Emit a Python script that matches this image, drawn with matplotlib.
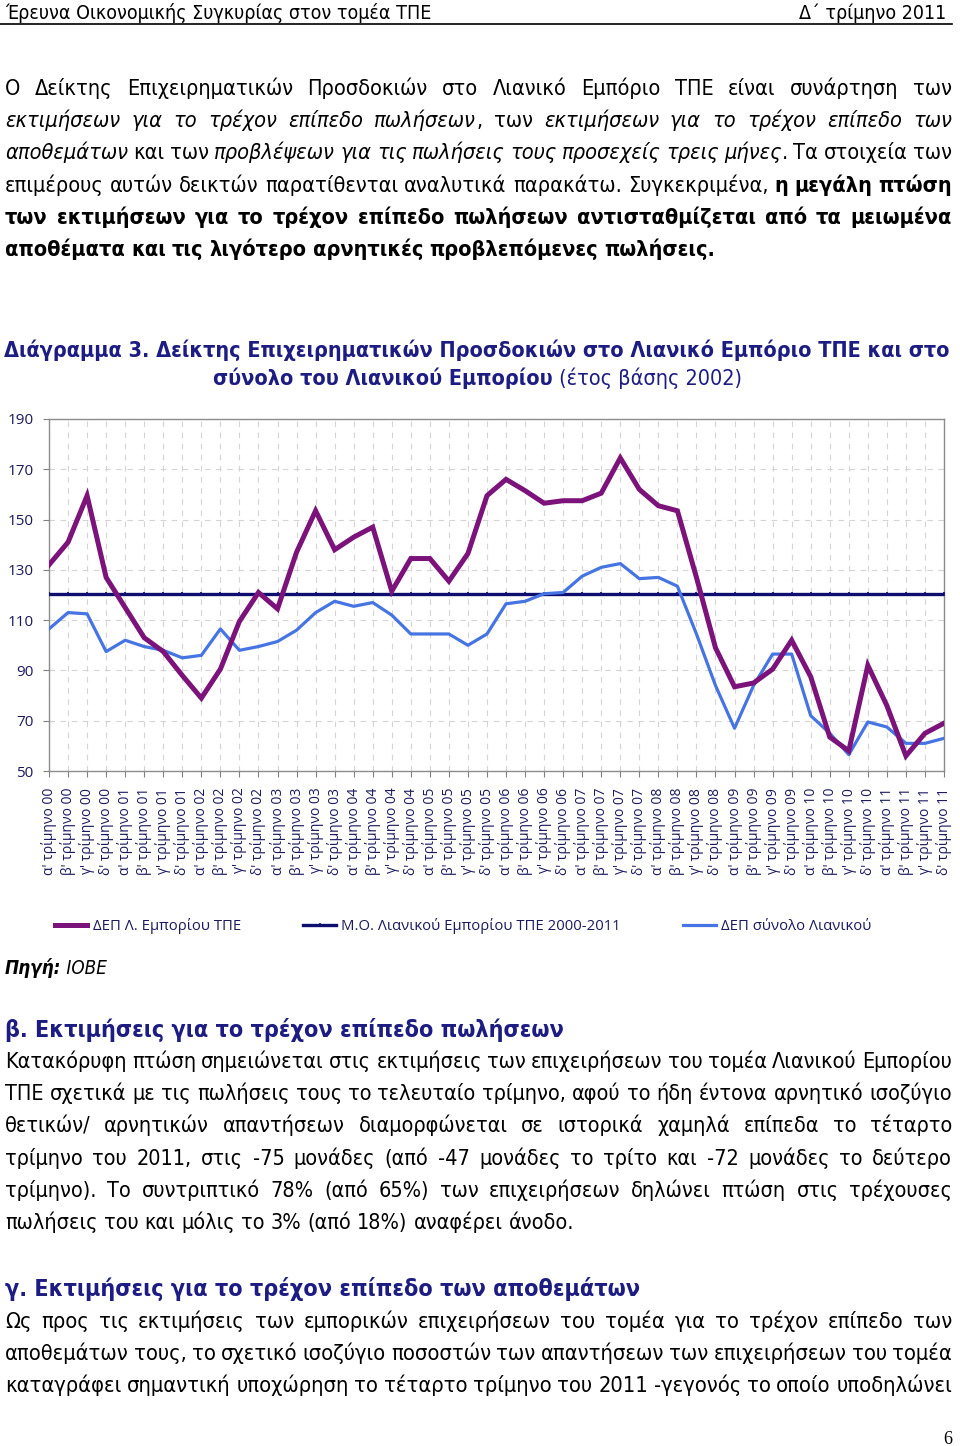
import matplotlib
matplotlib.use('Agg')
import matplotlib.pyplot as plt
import logging
logging.getLogger('matplotlib.font_manager').setLevel(logging.ERROR)

# ---------------- data ----------------
years = ['00', '01', '02', '03', '04', '05', '06', '07', '08', '09', '10', '11']
quarters = ["α'", "β'", "γ'", "δ'"]
categories = [f"{q} τρίμηνο {y}" for y in years for q in quarters]

dep_tpe = [132, 141, 159.5, 127, 115, 103, 97.5, 88, 79, 90.5, 109.5, 121,
           114.5, 137, 153.5, 138, 143, 147, 121.5, 134.5, 134.5, 125.5, 136.5, 159.5,
           166, 161.5, 156.5, 157.5, 157.5, 160.5, 174.5, 162, 155.5, 153.5, 127, 99,
           83.5, 85, 90.5, 102, 87.5, 63.5, 58, 92, 76, 56, 65, 69]
mean_tpe_value = 120.5
mean_tpe = [mean_tpe_value] * len(categories)
dep_total = [106.5, 113, 112.5, 97.5, 102, 99.5, 98, 95, 96, 106.5, 98, 99.5,
             101.5, 106, 113, 117.5, 115.5, 117, 112, 104.5, 104.5, 104.5, 100, 104.5,
             116.5, 117.5, 120.5, 121, 127.5, 131, 132.5, 126.5, 127, 123.5, 104.5, 84,
             67, 84, 96.5, 96.5, 72, 65, 56.5, 69.5, 67.5, 61, 61, 63]
series_labels = ['ΔΕΠ Λ. Εμπορίου ΤΠΕ', 'Μ.Ο. Λιανικού Εμπορίου ΤΠΕ 2000-2011', 'ΔΕΠ σύνολο Λιανικού']
yticks = [50, 70, 90, 110, 130, 150, 170, 190]

PURPLE = '#7B137B'
NAVY = '#0E0E6E'
BLUE = '#4674E2'
TXTNAVY = '#1A1A5E'
HEADNAVY = '#1C1C82'

W, H = 960, 1446
fig = plt.figure(figsize=(9.6, 14.46), dpi=100)
fig.patch.set_facecolor('white')
R = fig.canvas.get_renderer()


def fx(x):
    return x / W


def fy(y):
    return 1 - y / H


BODY = dict(family=['DejaVu Sans'], fontstretch='condensed')
STY = {'n': dict(), 'i': dict(style='italic'), 'b': dict(weight='bold'),
       'bi': dict(style='italic', weight='bold')}


def twidth(s, size, sty='n', fam=None):
    kw = dict(BODY) if fam is None else dict(family=fam)
    t = fig.text(0, 0, s, fontsize=size, **kw, **STY[sty])
    w = t.get_window_extent(R).width
    t.remove()
    return w


def fit_size(s, width, sty='n', fam=None, base=20):
    return base * width / twidth(s, base, sty, fam)


def parse(line):
    words, pieces = [], []
    buf = ''
    state = {'i': False, 'b': False}

    def sk():
        k = ('b' if state['b'] else '') + ('i' if state['i'] else '')
        return k or 'n'

    for ch in line:
        if ch in '_*':
            if buf:
                pieces.append((buf, sk()))
                buf = ''
            if ch == '_':
                state['i'] = not state['i']
            else:
                state['b'] = not state['b']
        elif ch == ' ':
            if buf:
                pieces.append((buf, sk()))
                buf = ''
            if pieces:
                words.append(pieces)
                pieces = []
        else:
            buf += ch
    if buf:
        pieces.append((buf, sk()))
    if pieces:
        words.append(pieces)
    return words


def paragraph(lines, y0, dy, size_target, x0=5, x1=952, last_justify=False, color='black'):
    parsed = [parse(l) for l in lines]
    n = len(parsed)
    size = size_target
    sp0 = twidth('x x', size_target) - twidth('xx', size_target)
    for i, words in enumerate(parsed):
        if i == n - 1 and not last_justify:
            continue
        ws = [sum(twidth(p, size_target, s) for p, s in w) for w in words]
        nat = sum(ws) + 0.9 * sp0 * (len(ws) - 1)
        if nat > (x1 - x0):
            size = min(size, size_target * (x1 - x0) / nat)
    sp = twidth('x x', size) - twidth('xx', size)
    for i, words in enumerate(parsed):
        ws = [sum(twidth(p, size, s) for p, s in w) for w in words]
        just = (i < n - 1) or last_justify
        gap = (x1 - x0 - sum(ws)) / (len(ws) - 1) if just and len(ws) > 1 else sp
        x = x0
        y = y0 + i * dy
        for w, wd in zip(words, ws):
            xx = x
            for p, s in w:
                fig.text(fx(xx), fy(y), p, fontsize=size, va='baseline', ha='left',
                         color=color, **BODY, **STY[s])
                xx += twidth(p, size, s)
            x += wd + gap


# ---------------- header ----------------
h1 = 'Έρευνα Οικονομικής Συγκυρίας στον τομέα ΤΠΕ'
h2 = 'Δ΄ τρίμηνο 2011'
hs = fit_size(h1, 425)
fig.text(fx(5), fy(19), h1, fontsize=hs, va='baseline', ha='left', **BODY)
fig.text(fx(946), fy(19), h2, fontsize=hs, va='baseline', ha='right', **BODY)
fig.add_artist(plt.Line2D([fx(0), fx(952)], [fy(24), fy(24)], color='black', lw=1.2,
                          transform=fig.transFigure))

# ---------------- paragraph 1 ----------------
p1 = [
    "Ο Δείκτης Επιχειρηματικών Προσδοκιών στο Λιανικό Εμπόριο ΤΠΕ είναι συνάρτηση των",
    "_εκτιμήσεων για το τρέχον επίπεδο πωλήσεων_, των _εκτιμήσεων για το τρέχον επίπεδο των_",
    "_αποθεμάτων_ και των _προβλέψεων για τις πωλήσεις τους προσεχείς τρεις μήνες_. Τα στοιχεία των",
    "επιμέρους αυτών δεικτών παρατίθενται αναλυτικά παρακάτω. Συγκεκριμένα, *η μεγάλη πτώση*",
    "*των εκτιμήσεων για το τρέχον επίπεδο πωλήσεων αντισταθμίζεται από τα μειωμένα*",
    "*αποθέματα και τις λιγότερο αρνητικές προβλεπόμενες πωλήσεις.*",
]
paragraph(p1, 95, 32.2, 16.5)

# ---------------- chart title ----------------
t1 = 'Διάγραμμα 3. Δείκτης Επιχειρηματικών Προσδοκιών στο Λιανικό Εμπόριο ΤΠΕ και στο'
ts = fit_size(t1, 943, 'b')
fig.text(fx(476.5), fy(357), t1, fontsize=ts, va='baseline', ha='center', color=HEADNAVY,
         weight='bold', **BODY)
t2a = 'σύνολο του Λιανικού Εμπορίου'
t2b = ' (έτος βάσης 2002)'
wa = twidth(t2a, ts, 'b')
wb = twidth(t2b, ts, 'n')
xs = 477.5 - (wa + wb) / 2
fig.text(fx(xs), fy(385), t2a, fontsize=ts, va='baseline', ha='left', color=HEADNAVY,
         weight='bold', **BODY)
fig.text(fx(xs + wa), fy(385), t2b, fontsize=ts, va='baseline', ha='left', color=HEADNAVY,
         **BODY)

# ---------------- chart ----------------
CFAM = ['Open Sans', 'Noto Sans', 'DejaVu Sans']
ax = fig.add_axes([fx(49), fy(771), (944 - 49) / W, (771 - 419) / H])
x = list(range(len(categories)))
l1, = ax.plot(x, dep_tpe, color=PURPLE, lw=3.6, solid_joinstyle='miter', zorder=4)
l2, = ax.plot(x, mean_tpe, color=NAVY, lw=2.4, marker='|', markersize=3.5, mew=1.2, zorder=3)
l3, = ax.plot(x, dep_total, color=BLUE, lw=2.3, zorder=3.5)
ax.set_xlim(0, len(categories) - 1)
ax.set_ylim(50, 190)
ax.set_yticks(yticks)
ax.set_yticklabels([str(v) for v in yticks], family=CFAM, fontsize=11, color=TXTNAVY)
ax.set_xticks(x)
ax.set_xticklabels(categories, rotation=90, family=CFAM, fontsize=10, color=TXTNAVY,
                   va='top', ha='center')
ax.tick_params(axis='x', length=4, width=0.8, color='#808080', pad=8)
ax.tick_params(axis='y', length=4, width=0.8, color='#808080', pad=7)
ax.grid(True, color='#D4D4D4', linestyle=(0, (5, 5)), lw=0.8)
ax.set_axisbelow(True)
for s in ax.spines.values():
    s.set_color('#8C8C8C')
    s.set_linewidth(1.0)

leg = fig.legend([l1, l2, l3], series_labels, loc='center', ncol=3,
                 bbox_to_anchor=(fx(463), fy(926)), frameon=False,
                 prop=dict(family=CFAM, size=10.7), labelcolor=TXTNAVY,
                 handlelength=2.2, handletextpad=0.35, columnspacing=4.2, numpoints=1)

# ---------------- source ----------------
fig.text(fx(5), fy(974), 'Πηγή:', fontsize=13.5, va='baseline', ha='left',
         weight='bold', style='italic', **BODY)
ws_ = twidth('Πηγή:', 13.5, 'bi')
fig.text(fx(5 + ws_), fy(974), ' ΙΟΒΕ', fontsize=13.5, va='baseline', ha='left',
         style='italic', **BODY)

# ---------------- section beta ----------------
hb = 'β. Εκτιμήσεις για το τρέχον επίπεδο πωλήσεων'
hbs = fit_size(hb, 560, 'b')
fig.text(fx(5), fy(1037), hb, fontsize=hbs, va='baseline', ha='left', color=HEADNAVY,
         weight='bold', **BODY)
pb = [
    "Κατακόρυφη πτώση σημειώνεται στις εκτιμήσεις των επιχειρήσεων του τομέα Λιανικού Εμπορίου",
    "ΤΠΕ σχετικά με τις πωλήσεις τους το τελευταίο τρίμηνο, αφού το ήδη έντονα αρνητικό ισοζύγιο",
    "θετικών/ αρνητικών απαντήσεων διαμορφώνεται σε ιστορικά χαμηλά επίπεδα το τέταρτο",
    "τρίμηνο του 2011, στις -75 μονάδες (από -47 μονάδες το τρίτο και -72 μονάδες το δεύτερο",
    "τρίμηνο). Το συντριπτικό 78% (από 65%) των επιχειρήσεων δηλώνει πτώση στις τρέχουσες",
    "πωλήσεις του και μόλις το 3% (από 18%) αναφέρει άνοδο.",
]
paragraph(pb, 1068, 32.2, 16.5)

# ---------------- section gamma ----------------
hg = 'γ. Εκτιμήσεις για το τρέχον επίπεδο των αποθεμάτων'
hgs = fit_size(hg, 636, 'b')
fig.text(fx(5), fy(1296), hg, fontsize=hgs, va='baseline', ha='left', color=HEADNAVY,
         weight='bold', **BODY)
pg = [
    "Ως προς τις εκτιμήσεις των εμπορικών επιχειρήσεων του τομέα για το τρέχον επίπεδο των",
    "αποθεμάτων τους, το σχετικό ισοζύγιο ποσοστών των απαντήσεων των επιχειρήσεων του τομέα",
    "καταγράφει σημαντική υποχώρηση το τέταρτο τρίμηνο του 2011 -γεγονός το οποίο υποδηλώνει",
]
paragraph(pg, 1328, 32.2, 16.5, last_justify=True)

fig.text(fx(952), fy(1444), '6', fontsize=13, family=['Liberation Serif', 'DejaVu Serif'],
         va='baseline', ha='right')

fig.savefig('out.png', dpi=100, facecolor='white')
